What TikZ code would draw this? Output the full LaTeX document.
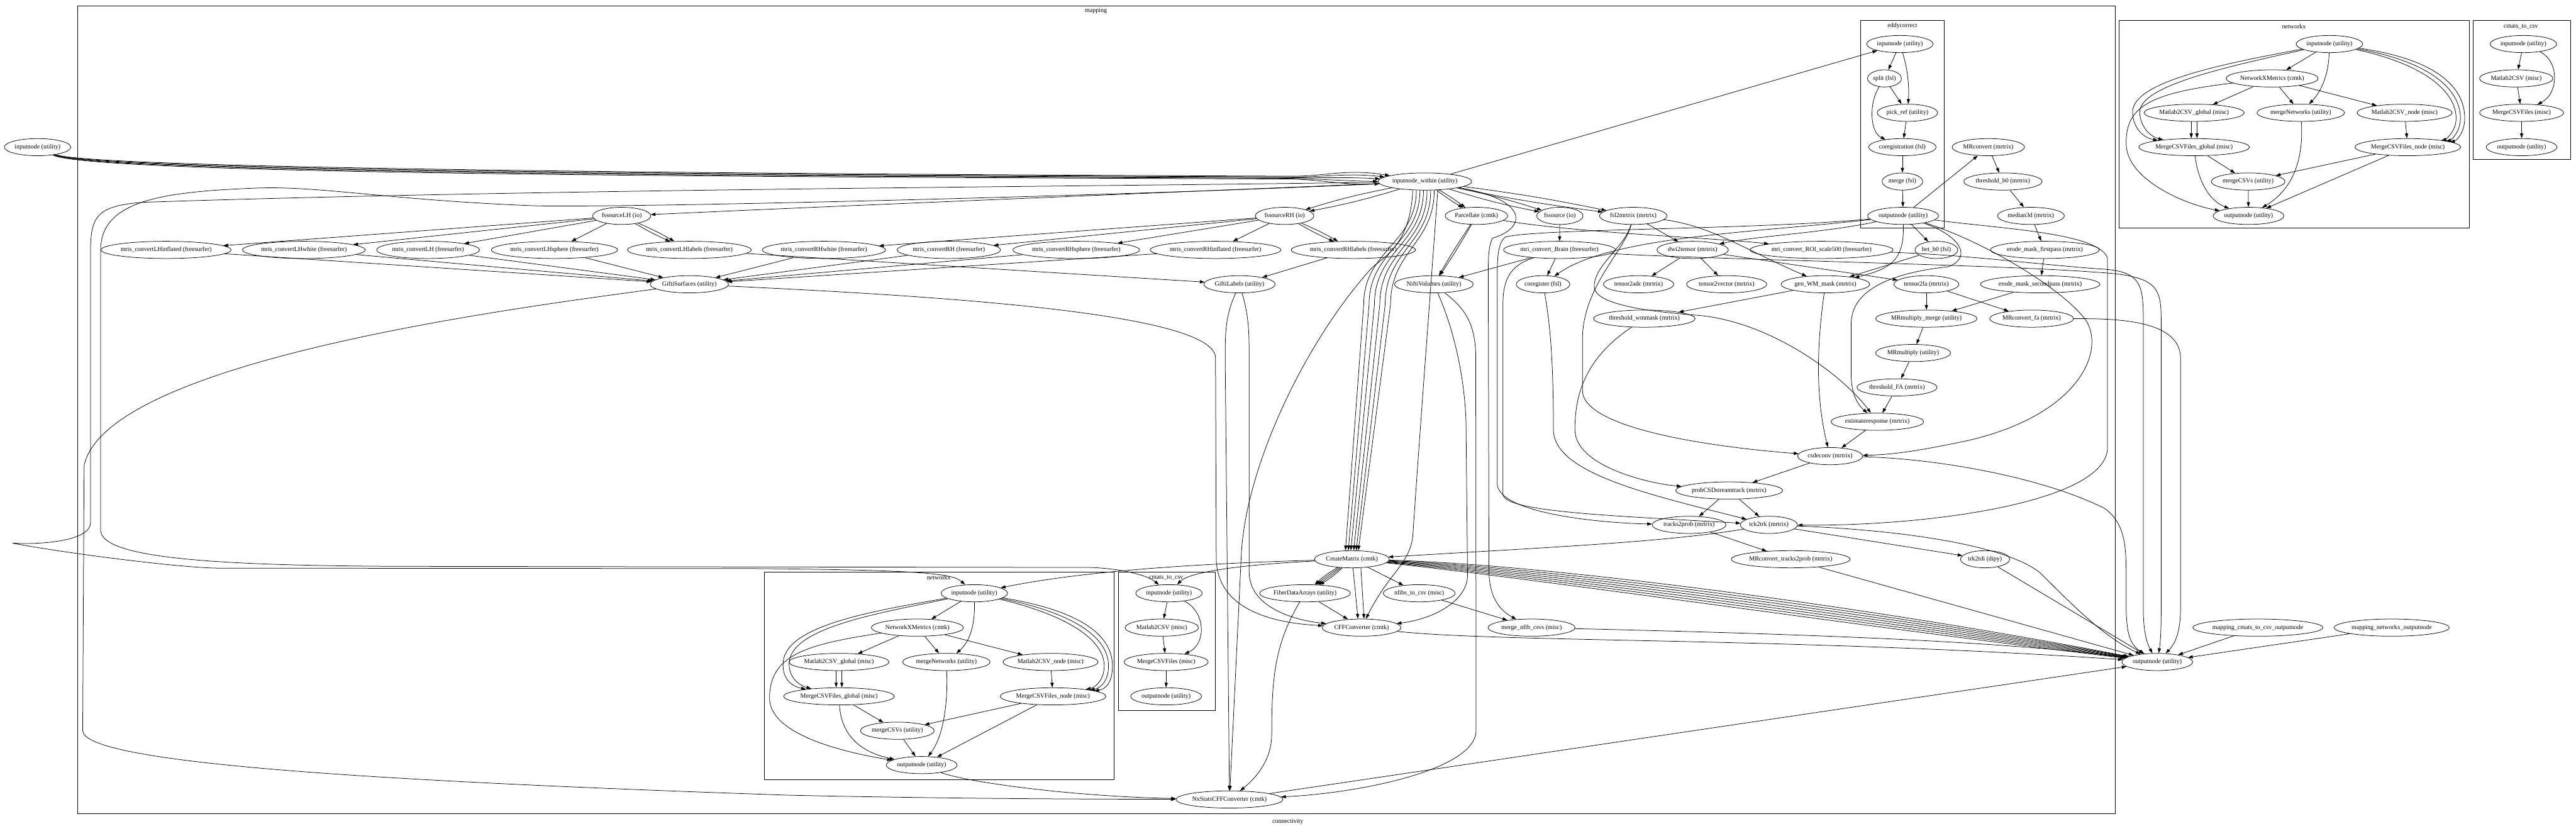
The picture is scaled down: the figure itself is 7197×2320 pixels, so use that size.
\documentclass[tikz,border=0pt]{standalone}
\usepackage{fontspec}
\setmainfont{Liberation Serif}
\usetikzlibrary{shapes.geometric,arrows.meta,calc}
\begin{document}
\begin{tikzpicture}[x=0.02cm,y=-0.02cm,
  nd/.style={ellipse,draw,line width=0.75pt,minimum height=0.96cm,inner xsep=0.03cm,inner ysep=0pt,font=\fontsize{10}{12}\selectfont},
  lab/.style={font=\fontsize{10}{12}\selectfont,inner sep=0pt},
  box/.style={draw,line width=0.75pt},
  ar/.style={line width=0.75pt,-{Triangle[length=0.27cm,width=0.18cm]}}]
\useasboundingbox (0,0) rectangle (7197,2320);
% ---------- clusters
\draw[box] (216,16) rectangle (5909,2272);
\node[lab] (Lmap) at (3062,31) {mapping};
\node[lab] (Lconn) at (3598,2296) {connectivity};
\draw[box] (5198,57) rectangle (5431,636);
\node[lab] (Ledd) at (5315,73) {eddycorrect};
\draw[box] (2135,1597) rectangle (3112,2177);
\node[lab] (Lnx1) at (2623,1613) {networkx};
\draw[box] (3124,1597) rectangle (3395,1985);
\node[lab] (Lcm1) at (3258,1613) {cmats\_to\_csv};
\draw[box] (5920,57) rectangle (6898,637);
\node[lab] (Lnx2) at (6409,74) {networkx};
\draw[box] (6909,57) rectangle (7181,445);
\node[lab] (Lcm2) at (7043,74) {cmats\_to\_csv};
% ---------- outer nodes
\node[nd] (in0) at (105,411) {inputnode (utility)};
\node[nd] (out0) at (6027,1849) {outputnode (utility)};
\node[nd] (mcto) at (6308,1753) {mapping\_cmats\_to\_csv\_outputnode};
\node[nd] (mnxo) at (6682,1753) {mapping\_networkx\_outputnode};
% top networkx
\node[nd] (tni) at (6508,123) {inputnode (utility)};
\node[nd] (tnm) at (6348,219) {NetworkXMetrics (cmtk)};
\node[nd] (t2g) at (6130,315) {Matlab2CSV\_global (misc)};
\node[nd] (tmn) at (6428,315) {mergeNetworks (utility)};
\node[nd] (t2n) at (6718,315) {Matlab2CSV\_node (misc)};
\node[nd] (tmg) at (6130,411) {MergeCSVFiles\_global (misc)};
\node[nd] (tmd) at (6727,411) {MergeCSVFiles\_node (misc)};
\node[nd] (tmc) at (6281,507) {mergeCSVs (utility)};
\node[nd] (tno) at (6282,603) {outputnode (utility)};
% top cmats
\node[nd] (tci) at (7050,123) {inputnode (utility)};
\node[nd] (tcm) at (7030,219) {Matlab2CSV (misc)};
\node[nd] (tcf) at (7045,315) {MergeCSVFiles (misc)};
\node[nd] (tco) at (7045,411) {outputnode (utility)};
% ---------- mapping nodes
\node[nd] (inw) at (3981,507) {inputnode\_within (utility)};
\node[nd] (fsLH) at (1737,603) {fssourceLH (io)};
\node[nd] (fsRH) at (3589,603) {fssourceRH (io)};
\node[nd] (parc) at (4125,603) {Parcellate (cmtk)};
\node[nd] (fss) at (4358,603) {fssource (io)};
\node[nd] (f2m) at (4563,603) {fsl2mrtrix (mrtrix)};
\node[nd] (cLHi) at (464,698) {mris\_convertLHinflated (freesurfer)};
\node[nd] (cLHw) at (849,698) {mris\_convertLHwhite (freesurfer)};
\node[nd] (cLH) at (1196,698) {mris\_convertLH (freesurfer)};
\node[nd] (cLHs) at (1549,698) {mris\_convertLHsphere (freesurfer)};
\node[nd] (cLHl) at (1926,698) {mris\_convertLHlabels (freesurfer)};
\node[nd] (cRHw) at (2302,698) {mris\_convertRHwhite (freesurfer)};
\node[nd] (cRH) at (2651,698) {mris\_convertRH (freesurfer)};
\node[nd] (cRHs) at (3007,698) {mris\_convertRHsphere (freesurfer)};
\node[nd] (cRHi) at (3396,698) {mris\_convertRHinflated (freesurfer)};
\node[nd] (cRHl) at (3781,698) {mris\_convertRHlabels (freesurfer)};
\node[nd] (mcb) at (4357,698) {mri\_convert\_Brain (freesurfer)};
\node[nd] (d2t) at (4729,698) {dwi2tensor (mrtrix)};
\node[nd] (roi) at (5089,698) {mri\_convert\_ROI\_scale500 (freesurfer)};
\node[nd] (bet) at (5410,698) {bet\_b0 (fsl)};
\node[nd] (em1) at (5713,698) {erode\_mask\_firstpass (mrtrix)};
\node[nd] (gS) at (1926,794) {GiftiSurfaces (utility)};
\node[nd] (gL) at (3463,794) {GiftiLabels (utility)};
\node[nd] (nV) at (4006,794) {NiftiVolumes (utility)};
\node[nd] (creg) at (4311,794) {coregister (fsl)};
\node[nd] (t2a) at (4578,794) {tensor2adc (mrtrix)};
\node[nd] (t2v) at (4824,794) {tensor2vector (mrtrix)};
\node[nd] (gwm) at (5100,794) {gen\_WM\_mask (mrtrix)};
\node[nd] (t2f) at (5382,794) {tensor2fa (mrtrix)};
\node[nd] (em2) at (5700,794) {erode\_mask\_secondpass (mrtrix)};
\node[nd] (twm) at (4594,890) {threshold\_wmmask (mrtrix)};
\node[nd] (mmm) at (5382,890) {MRmultiply\_merge (utility)};
\node[nd] (mcfa) at (5676,890) {MRconvert\_fa (mrtrix)};
\node[nd] (mmul) at (5345,986) {MRmultiply (utility)};
\node[nd] (tfa) at (5300,1082) {threshold\_FA (mrtrix)};
\node[nd] (est) at (5245,1178) {estimateresponse (mrtrix)};
\node[nd] (csd) at (5113,1274) {csdeconv (mrtrix)};
\node[nd] (prob) at (4831,1370) {probCSDstreamtrack (mrtrix)};
\node[nd] (t2p) at (4719,1466) {tracks2prob (mrtrix)};
\node[nd] (tck) at (4942,1466) {tck2trk (mrtrix)};
\node[nd] (mct) at (5003,1562) {MRconvert\_tracks2prob (mrtrix)};
\node[nd] (tdi) at (5546,1562) {trk2tdi (dipy)};
\node[nd] (cm) at (3777,1562) {CreateMatrix (cmtk)};
\node[nd] (fda) at (3646,1657) {FiberDataArrays (utility)};
\node[nd] (nf) at (3965,1657) {nfibs\_to\_csv (misc)};
\node[nd] (cff) at (3804,1753) {CFFConverter (cmtk)};
\node[nd] (mnf) at (4279,1753) {merge\_nfib\_csvs (misc)};
\node[nd] (nx) at (3435,2233) {NxStatsCFFConverter (cmtk)};
\node[nd] (mrc) at (5555,411) {MRconvert (mrtrix)};
\node[nd] (tb0) at (5596,507) {threshold\_b0 (mrtrix)};
\node[nd] (m3d) at (5674,603) {median3d (mrtrix)};
% eddycorrect
\node[nd] (ei) at (5308,123) {inputnode (utility)};
\node[nd] (es) at (5265,219) {split (fsl)};
\node[nd] (ep) at (5329,315) {pick\_ref (utility)};
\node[nd] (ec) at (5315,411) {coregistration (fsl)};
\node[nd] (em) at (5315,507) {merge (fsl)};
\node[nd] (eo) at (5317,603) {outputnode (utility)};
% lower networkx
\node[nd] (ni) at (2722,1657) {inputnode (utility)};
\node[nd] (nm) at (2563,1753) {NetworkXMetrics (cmtk)};
\node[nd] (n2g) at (2344,1849) {Matlab2CSV\_global (misc)};
\node[nd] (nmn) at (2644,1849) {mergeNetworks (utility)};
\node[nd] (n2n) at (2935,1849) {Matlab2CSV\_node (misc)};
\node[nd] (nmg) at (2344,1945) {MergeCSVFiles\_global (misc)};
\node[nd] (nmd) at (2942,1945) {MergeCSVFiles\_node (misc)};
\node[nd] (nmc) at (2507,2041) {mergeCSVs (utility)};
\node[nd] (no) at (2575,2137) {outputnode (utility)};
% lower cmats
\node[nd] (ci) at (3266,1657) {inputnode (utility)};
\node[nd] (cmc) at (3246,1753) {Matlab2CSV (misc)};
\node[nd] (cmf) at (3258,1849) {MergeCSVFiles (misc)};
\node[nd] (co) at (3258,1945) {outputnode (utility)};

% ================= edges
% top networkx
\draw[ar] (tni) -- (tnm);
\draw[ar] (tni) .. controls (6506,200) and (6490,250) .. (tmn);
\draw[ar] (tni) .. controls (6200,180) and (5955,230) .. (5958,315) .. controls (5960,360) and (5990,385) .. (tmg);
\draw[ar] (tni) .. controls (6215,188) and (5975,240) .. (5978,315) .. controls (5980,355) and (6008,382) .. (tmg);
\draw[ar] (tni) .. controls (6780,180) and (6862,260) .. (6862,330) .. controls (6862,370) and (6830,390) .. (tmd);
\draw[ar] (tni) .. controls (6790,172) and (6874,250) .. (6874,330) .. controls (6874,372) and (6845,392) .. (tmd);
\draw[ar] (tni) .. controls (6800,164) and (6886,240) .. (6886,330) .. controls (6886,374) and (6860,394) .. (tmd);
\draw[ar] (tnm) -- (t2g);
\draw[ar] (tnm) -- (tmn);
\draw[ar] (tnm) -- (t2n);
\draw[ar] (tnm) .. controls (6000,260) and (5940,300) .. (5940,400) .. controls (5940,500) and (6100,570) .. (tno);
\draw[ar] ($(t2g.south)+(-8,0)$) -- ($(tmg.north)+(-8,0)$);
\draw[ar] ($(t2g.south)+(8,0)$) -- ($(tmg.north)+(8,0)$);
\draw[ar] (t2n) -- (tmd);
\draw[ar] (tmg) -- (tmc);
\draw[ar] (tmg) .. controls (6140,500) and (6170,560) .. (tno);
\draw[ar] (tmd) -- (tmc);
\draw[ar] (tmd) -- (tno);
\draw[ar] (tmn) .. controls (6435,420) and (6420,520) .. (tno);
\draw[ar] (tmc) -- (tno);
% top cmats
\draw[ar] (tci) -- (tcm);
\draw[ar] (tci) .. controls (7150,170) and (7150,260) .. (tcf);
\draw[ar] (tcm) -- (tcf);
\draw[ar] (tcf) -- (tco);
% lower networkx
\draw[ar] (ni) -- (nm);
\draw[ar] (ni) .. controls (2724,1740) and (2712,1790) .. (nmn);
\draw[ar] (ni) .. controls (2450,1705) and (2195,1745) .. (2188,1850) .. controls (2185,1890) and (2205,1915) .. (nmg);
\draw[ar] (ni) .. controls (2460,1712) and (2212,1752) .. (2205,1850) .. controls (2202,1885) and (2225,1912) .. (nmg);
\draw[ar] (ni) .. controls (2990,1720) and (3085,1790) .. (3085,1860) .. controls (3085,1900) and (3060,1920) .. (nmd);
\draw[ar] (ni) .. controls (3000,1712) and (3097,1780) .. (3097,1860) .. controls (3097,1902) and (3075,1922) .. (nmd);
\draw[ar] (ni) .. controls (3010,1704) and (3108,1770) .. (3108,1860) .. controls (3108,1905) and (3090,1925) .. (nmd);
\draw[ar] (nm) -- (n2g);
\draw[ar] (nm) -- (nmn);
\draw[ar] (nm) -- (n2n);
\draw[ar] (nm) .. controls (2250,1800) and (2150,1830) .. (2150,1950) .. controls (2150,2050) and (2350,2100) .. (no);
\draw[ar] ($(n2g.south)+(-8,0)$) -- ($(nmg.north)+(-8,0)$);
\draw[ar] ($(n2g.south)+(8,0)$) -- ($(nmg.north)+(8,0)$);
\draw[ar] (n2n) -- (nmd);
\draw[ar] (nmg) -- (nmc);
\draw[ar] (nmg) .. controls (2350,2050) and (2400,2100) .. (no);
\draw[ar] (nmd) -- (nmc);
\draw[ar] (nmd) -- (no);
\draw[ar] (nmn) .. controls (2648,1950) and (2640,2050) .. (no);
\draw[ar] (nmc) -- (no);
% lower cmats
\draw[ar] (ci) -- (cmc);
\draw[ar] (ci) .. controls (3370,1710) and (3370,1800) .. (cmf);
\draw[ar] (cmc) -- (cmf);
\draw[ar] (cmf) -- (co);
% eddycorrect
\draw[ar] (ei) -- (es);
\draw[ar] (ei) .. controls (5332,200) and (5334,250) .. (ep);
\draw[ar] (es) -- (ep);
\draw[ar] (es) .. controls (5220,290) and (5225,370) .. (ec);
\draw[ar] (ep) -- (ec);
\draw[ar] (ec) -- (em);
\draw[ar] (em) -- (eo);
% outer inputnode -> inputnode_within
\foreach \o in {0,4,8,12,16}
  \draw[ar] (in0) .. controls (250,470+\o) and (2000,486+\o/2) .. (3600,492+\o/2) .. controls (3700,494+\o/2) and (3760,470+\o*3) .. (inw);
% inputnode_within fan
\draw[ar] (inw) .. controls (3500,528) and (2500,568) .. (fsLH);
\draw[ar] (inw) to[bend left=3] (fsRH);
\draw[ar] (inw) to[bend right=3] (fsRH);
\draw[ar] (inw) to[bend left=3] (parc);
\draw[ar] (inw) to[bend right=3] (parc);
\draw[ar] (inw) to[bend left=3] (fss);
\draw[ar] (inw) to[bend right=3] (fss);
\draw[ar] (inw) to[bend left=2] (f2m);
\draw[ar] (inw) to[bend right=2] (f2m);
\draw[ar] (inw) -- (ei);
\foreach \a/\b/\c in {-24/-50/-18,-14/-35/-10,-4/-20/-3,6/-5/5,16/10/12,26/25/18}
  \draw[ar] ($(inw.south)+(\a,0)$) .. controls (3981+\a,680) and (3860+\b,700) .. (3860+\b,850) -- ($(cm.north)+(\c,0)$);
\draw[ar] ($(inw.south)+(-34,0)$) .. controls (3940,690) and (3860,720) .. (3831,750) .. controls (3650,950) and (3480,1300) .. (3468,1550) -- (nx);
\draw[ar] ($(inw.south)+(36,0)$) .. controls (3990,900) and (3960,1300) .. (3947,1500) .. controls (3935,1580) and (3880,1600) .. (cff);
\draw[ar] (inw) .. controls (4280,560) and (4260,640) .. (4170,665) .. controls (4158,690) and (4158,720) .. (4158,780) -- (4160,1600) .. controls (4162,1680) and (4200,1710) .. (mnf);
% long left routes
\draw[ar] (inw) .. controls (3000,522) and (1500,528) .. (400,565) .. controls (275,575) and (253,600) .. (253,700) -- (253,1460) .. controls (253,1510) and (120,1522) .. (35,1517) .. controls (150,1540) and (500,1587) .. (617,1587) -- (2100,1588) .. controls (2550,1592) and (2660,1600) .. (ni);
\draw[ar] (inw) .. controls (3200,545) and (1800,580) .. (1500,575) .. controls (1100,560) and (900,520) .. (727,525) .. controls (450,535) and (281,560) .. (281,700) -- (281,1480) .. controls (281,1560) and (600,1582) .. (1200,1582) -- (3050,1585) .. controls (3150,1590) and (3210,1610) .. (ci);
\draw[ar] (gS) .. controls (1500,853) and (300,1000) .. (235,1300) -- (231,2040) .. controls (231,2130) and (1000,2180) .. (2200,2221) .. controls (2700,2232) and (3100,2232) .. (nx);
% fssource LH / RH
\draw[ar] (fsLH) -- (cLHi);
\draw[ar] (fsLH) -- (cLHw);
\draw[ar] (fsLH) -- (cLH);
\draw[ar] (fsLH) -- (cLHs);
\draw[ar] (fsLH) to[bend left=3] (cLHl);
\draw[ar] (fsLH) to[bend right=3] (cLHl);
\draw[ar] (fsRH) -- (cRHw);
\draw[ar] (fsRH) -- (cRH);
\draw[ar] (fsRH) -- (cRHs);
\draw[ar] (fsRH) -- (cRHi);
\draw[ar] (fsRH) to[bend left=3] (cRHl);
\draw[ar] (fsRH) to[bend right=3] (cRHl);
\foreach \n in {cLHi,cLHw,cLH,cLHs,cRHw,cRH,cRHs,cRHi}
  \draw[ar] (\n) -- (gS);
\draw[ar] (cLHl) -- (gL);
\draw[ar] (cRHl) -- (gL);
\draw[ar] (gS) .. controls (2700,830) and (3396,880) .. (3396,1000) -- (3398,1560) .. controls (3400,1700) and (3550,1740) .. (cff);
\draw[ar] (gL) .. controls (3488,880) and (3490,920) .. (3490,1000) -- (3490,1600) .. controls (3492,1690) and (3600,1730) .. (cff);
\draw[ar] (gL) .. controls (3425,880) and (3423,920) .. (3423,1000) -- (nx);
% Parcellate, fssource, fsl2mrtrix
\draw[ar] (parc) to[bend left=2] (nV);
\draw[ar] (parc) to[bend right=2] (nV);
\draw[ar] (parc) .. controls (4400,650) and (4800,665) .. (roi);
\draw[ar] (fss) -- (mcb);
\draw[ar] (f2m) -- (d2t);
\draw[ar] (f2m) .. controls (4780,630) and (4880,700) .. (gwm);
\draw[ar] (f2m) .. controls (4540,690) and (4454,740) .. (4454,800) .. controls (4454,850) and (4600,870) .. (4747,881) .. controls (4950,900) and (5150,1050) .. (est);
\draw[ar] (f2m) .. controls (4540,700) and (4421,800) .. (4421,950) -- (4421,1090) .. controls (4421,1200) and (4800,1250) .. (csd);
% eddy outputnode
\draw[ar] (eo) -- (mrc);
\draw[ar] (eo) -- (bet);
\draw[ar] (eo) .. controls (5320,720) and (5290,750) .. (gwm);
\draw[ar] (eo) .. controls (5100,650) and (4900,660) .. (d2t);
\draw[ar] (eo) .. controls (4900,650) and (4500,660) .. (creg);
\draw[ar] (eo) .. controls (4900,642) and (4300,638) .. (4205,662) .. controls (4186,680) and (4183,710) .. (4183,780) -- (4183,1350) .. controls (4183,1430) and (4450,1460) .. (t2p);
\draw[ar] (eo) .. controls (5600,640) and (5860,650) .. (5888,720) -- (5888,1250) .. controls (5888,1400) and (5400,1470) .. (tck);
\draw[ar] (eo) .. controls (5480,660) and (5510,720) .. (5443,745) .. controls (5260,765) and (5175,820) .. (5172,900) -- (5172,1050) .. controls (5172,1100) and (5190,1130) .. (est);
\draw[ar] (eo) .. controls (5560,680) and (5780,820) .. (5831,900) .. controls (5880,990) and (5800,1160) .. (5500,1230) .. controls (5350,1262) and (5280,1270) .. (csd);
% mri_convert_Brain
\draw[ar] (mcb) -- (creg);
\draw[ar] (mcb) -- (nV);
\draw[ar] (mcb) .. controls (4220,740) and (4199,780) .. (4199,850) -- (4199,1380) .. controls (4200,1430) and (4500,1440) .. (tck);
\draw[ar] (mcb) .. controls (4700,722) and (5600,740) .. (5850,760) .. controls (6030,770) and (6038,800) .. (6038,900) -- (6038,1700) .. controls (6038,1770) and (6035,1800) .. (out0);
\draw[ar] (roi) .. controls (5500,712) and (5700,740) .. (5880,752) .. controls (5985,760) and (5988,800) .. (5988,900) -- (5988,1700) .. controls (5988,1770) and (6000,1800) .. (out0);
\draw[ar] (mcfa) .. controls (5900,890) and (6092,890) .. (6092,1000) -- (6092,1700) .. controls (6092,1770) and (6075,1800) .. (out0);
% tensors / masks
\draw[ar] (bet) -- (gwm);
\draw[ar] (d2t) -- (t2a);
\draw[ar] (d2t) -- (t2v);
\draw[ar] (d2t) -- (t2f);
\draw[ar] (t2f) -- (mmm);
\draw[ar] (t2f) -- (mcfa);
\draw[ar] (mrc) -- (tb0);
\draw[ar] (tb0) -- (m3d);
\draw[ar] (m3d) -- (em1);
\draw[ar] (em1) -- (em2);
\draw[ar] (em2) -- (mmm);
\draw[ar] (mmm) -- (mmul);
\draw[ar] (mmul) -- (tfa);
\draw[ar] (tfa) -- (est);
\draw[ar] (est) -- (csd);
\draw[ar] (gwm) -- (twm);
\draw[ar] (gwm) .. controls (5078,950) and (5070,1100) .. (csd);
\draw[ar] (twm) .. controls (4430,1000) and (4400,1100) .. (4400,1200) .. controls (4400,1300) and (4600,1350) .. (prob);
\draw[ar] (csd) -- (prob);
\draw[ar] (prob) -- (t2p);
\draw[ar] (prob) -- (tck);
\draw[ar] (t2p) -- (mct);
\draw[ar] (tck) -- (tdi);
\draw[ar] (creg) .. controls (4330,900) and (4340,1000) .. (4340,1200) .. controls (4340,1320) and (4600,1380) .. (tck);
\draw[ar] (tck) .. controls (4650,1515) and (4300,1530) .. (cm);
\draw[ar] (tck) .. controls (5300,1480) and (5600,1520) .. (5700,1600) .. controls (5800,1700) and (5880,1780) .. (out0);
\draw[ar] (tdi) -- (out0);
\draw[ar] (mct) -- (out0);
\draw[ar] (csd) .. controls (5400,1280) and (5700,1330) .. (5880,1420) .. controls (5935,1460) and (5940,1520) .. (5940,1600) -- (5940,1700) .. controls (5942,1770) and (5950,1800) .. (out0);
% NiftiVolumes
\draw[ar] (nV) .. controls (4075,950) and (4096,1100) .. (4096,1200) -- (4100,1600) .. controls (4105,1680) and (4000,1730) .. (cff);
\draw[ar] (nV) .. controls (4090,860) and (4123,900) .. (4123,1000) -- (4124,2040) .. controls (4124,2150) and (3800,2215) .. (nx);
% CreateMatrix
\draw[ar] (cm) to[bend right=6] (fda);
\draw[ar] (cm) to[bend right=2] (fda);
\draw[ar] (cm) to[bend left=2] (fda);
\draw[ar] (cm) to[bend left=6] (fda);
\draw[ar] ($(cm.south)+(3,0)$) -- ($(cff.north)+(-10,0)$);
\draw[ar] ($(cm.south)+(25,-1)$) -- ($(cff.north)+(7,0)$);
\draw[ar] (cm) -- (nf);
\foreach \i in {0,...,6}
  \draw[ar] (cm) .. controls (4300,1575+\i*7) and (5200,1690+\i*10) .. (out0);
\draw[ar] (cm) .. controls (3300,1575) and (3000,1600) .. (ni);
\draw[ar] (cm) .. controls (3450,1578) and (3320,1600) .. (ci);
\draw[ar] (fda) -- (cff);
\draw[ar] (fda) .. controls (3560,1800) and (3553,1900) .. (3553,2050) .. controls (3553,2130) and (3500,2180) .. (nx);
\draw[ar] (nf) -- (mnf);
\draw[ar] (mnf) .. controls (5000,1770) and (5600,1790) .. (out0);
\draw[ar] (cff) .. controls (4200,1795) and (5000,1780) .. (out0);
\draw[ar] (nx) -- (out0);
\draw[ar] (no) .. controls (2700,2185) and (3000,2225) .. (nx);
\draw[ar] (mcto) -- (out0);
\draw[ar] (mnxo) -- (out0);
\end{tikzpicture}
\end{document}
